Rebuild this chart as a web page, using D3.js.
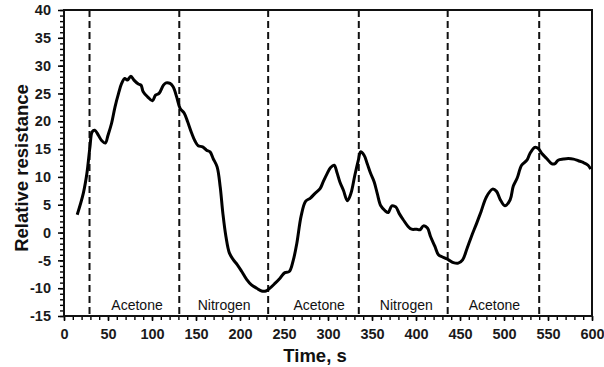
<!DOCTYPE html>
<html>
<head>
    <meta charset="utf-8">
    <title>Relative resistance</title>
    <script src="https://d3js.org/d3.v7.min.js"></script>
    <style>
        body { margin: 0; background-color: #ffffff; }
        svg { display: block; }
    </style>
</head>
<body>
<script>
    // Time (s)
    const timeS = [15, 22, 26, 29.5, 32, 35, 39, 43, 47, 50, 54, 58, 62, 65.5, 69, 72, 76, 79.5, 84.5, 87.5,
        90, 95, 100.5, 104, 108, 113, 116, 120.5, 124, 128, 132, 136.5, 140.5, 145, 149, 152.5, 157.5, 162, 166, 169.5,
        174, 177.5, 180.5, 184, 188, 192.5, 197, 202, 207.5, 213, 219, 224.5, 229.5, 234, 240, 245.5, 251, 256, 260.5, 264.5,
        269.5, 274.5, 280, 285, 291, 294.5, 299, 303, 307, 310, 313.5, 317.5, 322, 326, 330.5, 334.5, 337, 341, 344.5, 348.5,
        352.5, 356, 360, 365, 368.5, 372.5, 377, 381, 385.5, 391, 395, 401, 404.5, 408.5, 413, 416.5, 421.5, 425.5, 429, 433,
        437, 442.5, 448, 453, 457.5, 463, 469, 474, 480, 487, 491.5, 495.5, 501, 507, 510.5, 515, 520, 526, 529.5, 535,
        539, 543, 548.5, 554, 558, 561.5, 567.5, 573, 579, 584.5, 590, 595.5, 598.5];

    // Relative resistance at each time
    const resistance = [3.2, 7.1, 10.6, 15.4, 18.1, 18.4, 17.5, 16.5, 16.1, 17.5, 19.6, 22.6, 25.0, 26.8, 27.7, 27.4, 28.1, 27.4, 26.7, 26.5,
        25.3, 24.4, 23.7, 24.7, 25.0, 26.5, 26.9, 26.8, 26.2, 24.4, 22.3, 21.5, 19.9, 17.9, 16.4, 15.6, 15.4, 14.8, 14.5, 13.3,
        11.8, 8.2, 3.5, -0.7, -3.7, -4.9, -5.8, -7.0, -8.4, -9.4, -10.0, -10.5, -10.5, -10.0, -9.1, -8.2, -7.2, -7.0, -5.0, -2.0,
        3.0, 5.6, 6.2, 7.0, 7.9, 9.1, 10.6, 11.7, 12.1, 10.9, 9.1, 7.6, 5.7, 7.0, 10.3, 13.0, 14.5, 13.9, 12.4, 10.6,
        9.1, 7.0, 4.8, 3.9, 3.6, 4.8, 4.6, 3.4, 2.3, 1.1, 0.6, 0.6, 0.5, 1.2, 0.8, -0.7, -2.5, -4.0, -4.3, -4.6,
        -4.9, -5.4, -5.5, -4.9, -3.1, -0.7, 1.7, 3.8, 6.4, 7.8, 7.4, 6.0, 4.8, 5.9, 8.3, 9.8, 12.1, 13.0, 14.2, 15.3,
        15.1, 14.2, 13.3, 12.4, 12.4, 13.0, 13.2, 13.3, 13.2, 12.9, 12.6, 12.1, 11.4];

    // Gas switching times (dashed lines) and phase labels
    const switchTimes = [29, 131, 232, 335, 436, 540];
    const phaseNames = ["Acetone", "Nitrogen", "Acetone", "Nitrogen", "Acetone"];
    const phaseCenters = [83, 182, 290, 389, 489];

    const xTicks = d3.range(0, 601, 50);
    const yTicks = d3.range(-15, 41, 5);

    const W = 604, H = 367;
    const margin = {top: 10, right: 12, bottom: 51, left: 64};
    const width = W - margin.left - margin.right,
          height = H - margin.top - margin.bottom;
    const font = "'Liberation Sans', Arial, Helvetica, sans-serif";

    const svg = d3.select("body").append("svg")
        .attr("width", W)
        .attr("height", H)
        .style("font-family", font);

    const g = svg.append("g")
        .attr("transform", "translate(" + margin.left + "," + margin.top + ")");

    const x = d3.scaleLinear().domain([0, 600]).range([0, width]);
    const y = d3.scaleLinear().domain([-15, 40]).range([height, 0]);

    // minor ticks
    g.append("g")
        .attr("transform", "translate(0," + height + ")")
        .call(d3.axisBottom(x).tickValues(d3.range(0, 601, 10)).tickSize(4).tickFormat(""))
        .call(a => a.select(".domain").remove())
        .selectAll("line").attr("stroke-width", 1.4);
    g.append("g")
        .call(d3.axisLeft(y).tickValues(d3.range(-15, 41, 1)).tickSize(4).tickFormat(""))
        .call(a => a.select(".domain").remove())
        .selectAll("line").attr("stroke-width", 1.4);

    // major ticks
    const xAxis = g.append("g")
        .attr("transform", "translate(0," + height + ")")
        .call(d3.axisBottom(x).tickValues(xTicks).tickSize(5).tickPadding(8).tickFormat(d => String(d)));
    xAxis.select(".domain").remove();
    xAxis.selectAll("line").attr("stroke-width", 1.5);
    xAxis.selectAll("text")
        .style("font-family", font)
        .style("font-size", "14.5px")
        .style("font-weight", "bold")
        .attr("fill", "#1a1a1a");

    const yAxis = g.append("g")
        .call(d3.axisLeft(y).tickValues(yTicks).tickSize(6).tickPadding(7).tickFormat(d => String(d)));
    yAxis.select(".domain").remove();
    yAxis.selectAll("line").attr("stroke-width", 1.5);
    yAxis.selectAll("text")
        .style("font-family", font)
        .style("font-size", "14.5px")
        .style("font-weight", "bold")
        .attr("fill", "#1a1a1a");

    // frame
    g.append("rect")
        .attr("width", width)
        .attr("height", height)
        .attr("fill", "none")
        .attr("stroke", "#111")
        .attr("stroke-width", 2);

    // dashed switching lines
    g.selectAll(".switch")
        .data(switchTimes)
        .enter().append("line")
        .attr("class", "switch")
        .attr("x1", d => x(d))
        .attr("x2", d => x(d))
        .attr("y1", 0)
        .attr("y2", height)
        .attr("stroke", "#111")
        .attr("stroke-width", 2)
        .attr("stroke-dasharray", "7,4");

    // phase labels
    g.selectAll(".phase")
        .data(phaseNames)
        .enter().append("text")
        .attr("class", "phase")
        .attr("x", (d, i) => x(phaseCenters[i]))
        .attr("y", height - 6)
        .attr("text-anchor", "middle")
        .style("font-size", "14px")
        .attr("fill", "#111")
        .text(d => d);

    // response curve
    const data = timeS.map((t, i) => ({t: t, r: resistance[i]}));
    g.append("path")
        .datum(data)
        .attr("fill", "none")
        .attr("stroke", "#000")
        .attr("stroke-width", 3)
        .attr("stroke-linejoin", "round")
        .attr("d", d3.line().x(d => x(d.t)).y(d => y(d.r)).curve(d3.curveCatmullRom.alpha(0.5)));

    // axis titles
    svg.append("text")
        .attr("x", 315)
        .attr("y", 362)
        .attr("text-anchor", "middle")
        .style("font-size", "18.5px")
        .style("font-weight", "bold")
        .attr("fill", "#111")
        .text("Time, s");

    svg.append("text")
        .attr("transform", "translate(28," + 168 + ") rotate(-90)")
        .attr("text-anchor", "middle")
        .style("font-size", "18.5px")
        .style("font-weight", "bold")
        .attr("fill", "#111")
        .text("Relative resistance");
</script>
</body>
</html>
